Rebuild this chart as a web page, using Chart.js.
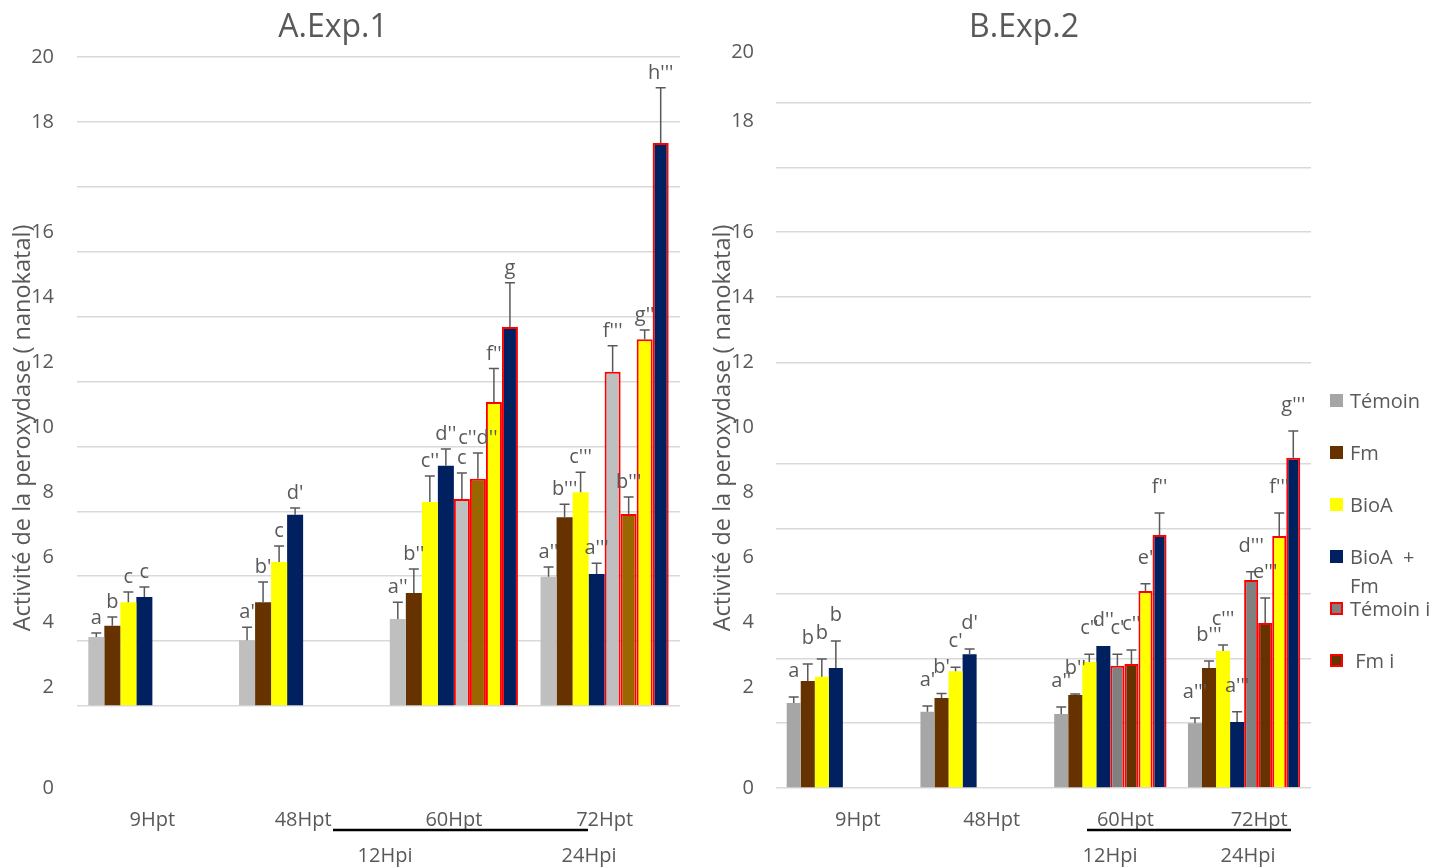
<!DOCTYPE html>
<html>
<head>
<meta charset="utf-8">
<script src="https://cdn.jsdelivr.net/npm/chart.js@4.4.0/dist/chart.umd.min.js"></script>
<style>
  body { margin: 0; background: #fff; width: 1433px; height: 867px; overflow: hidden; position: relative; }
  canvas { position: absolute; top: 0; }
  #chartA { left: 0; }
  #chartB { left: 700px; }
  #legend { position: absolute; left: 1330px; top: 0; font-family: "Open Sans", sans-serif; font-size: 20px; color: #595959; }
  .item { position: absolute; left: 0; width: 103px; line-height: 29px; white-space: pre-wrap; }
  .item span.box { position: absolute; left: 0; top: 8px; width: 13px; height: 13px; box-sizing: border-box; }
  .item span.txt { display: block; margin-left: 20px; width: 83px; }
</style>
</head>
<body>
<canvas id="chartA" width="700" height="867"></canvas>
<canvas id="chartB" width="733" height="867"></canvas>
<div id="legend"></div>

<script>
const FONT = '"Open Sans", sans-serif';
const TEXT = '#595959';

const categories = ['9Hpt', '48Hpt', '60Hpt', '72Hpt'];
const seriesNames = ['Témoin', 'Fm', 'BioA', 'BioA  + Fm', 'Témoin i', ' Fm i', 'BioA i', 'BioA + Fm i'];
const yTickLabels = ['0', '2', '4', '6', '8', '10', '12', '14', '16', '18', '20'];
const hpiLabels = ['12Hpi', '24Hpi'];

// Exp.1 values
const temoin1  = [2.13, 2.03, 2.68, 3.98];
const fm1      = [2.47, 3.20, 3.48, 5.82];
const bioa1    = [3.20, 4.44, 6.29, 6.59];
const bioaFm1  = [3.36, 5.89, 7.40, 4.07];
const temoinI1 = [null, null, 6.38, 10.30];
const fmI1     = [null, null, 7.00, 5.92];
const bioaI1   = [null, null, 9.37, 11.30];
const bioaFmI1 = [null, null, 11.68, 17.35];
// Exp.1 error bars
const errTemoin1  = [0.12, 0.40, 0.52, 0.30];
const errFm1      = [0.27, 0.62, 0.74, 0.40];
const errBioa1    = [0.31, 0.49, 0.80, 0.61];
const errBioaFm1  = [0.31, 0.21, 0.52, 0.33];
const errTemoinI1 = [null, null, 0.80, 0.80];
const errFmI1     = [null, null, 0.80, 0.52];
const errBioaI1   = [null, null, 1.03, 0.29];
const errBioaFmI1 = [null, null, 1.36, 1.70];
// Exp.1 letters
const letTemoin1  = ['a', "a'", "a''", "a''"];
const letFm1      = ['b', "b'", "b''", "b'''"];
const letBioa1    = ['c', 'c', "c''", "c'''"];
const letBioaFm1  = ['c', "d'", "d''", "a'''"];
const letTemoinI1 = [null, null, 'c', "f'''"];
const letFmI1     = [null, null, "c''d''", "b'''"];
const letBioaI1   = [null, null, "f''", "g''"];
const letBioaFmI1 = [null, null, 'g', "h'''"];

// Exp.2 values
const temoin2  = [2.62, 2.35, 2.28, 2.00];
const fm2      = [3.30, 2.78, 2.87, 3.70];
const bioa2    = [3.43, 3.60, 3.89, 4.23];
const bioaFm2  = [3.70, 4.13, 4.38, 2.04];
const temoinI2 = [null, null, 3.77, 6.42];
const fmI2     = [null, null, 3.83, 5.09];
const bioaI2   = [null, null, 6.08, 7.78];
const bioaFmI2 = [null, null, 7.81, 10.19];
// Exp.2 error bars
const errTemoin2  = [0.19, 0.18, 0.22, 0.16];
const errFm2      = [0.53, 0.14, 0.03, 0.22];
const errBioa2    = [0.55, 0.13, 0.24, 0.18];
const errBioaFm2  = [0.84, 0.16, 0.00, 0.31];
const errTemoinI2 = [null, null, 0.36, 0.25];
const errFmI2     = [null, null, 0.43, 0.77];
const errBioaI2   = [null, null, 0.22, 0.71];
const errBioaFmI2 = [null, null, 0.68, 0.83];
// Exp.2 letters
const letTemoin2  = ['a', "a'", "a''", "a'''"];
const letFm2      = ['b', "b'", "b''", "b'''"];
const letBioa2    = ['b', "c'", "c''", "c'''"];
const letBioaFm2  = ['b', "d'", "d''", "a'''"];
const letTemoinI2 = [null, null, "c'", "d'''"];
const letFmI2     = [null, null, "c''", "e'''"];
const letBioaI2   = [null, null, "e'", "f'''"];
const letBioaFmI2 = [null, null, "f''", "g'''"];

// gridline values of panel B (its upper gridlines are not evenly placed)
const gridB = [0, 2, 4, 6, 8, 10, 13.12, 15.15, 17.16, 19.14, 21.14];
// where the typed y labels sit on each panel's value scale
const yLabelAtA = [-2.53, 0.59, 2.59, 4.59, 6.6, 8.6, 10.6, 12.6, 14.6, 18.0, 20.0];
const yLabelAtB = [0, 3.12, 5.12, 7.13, 9.14, 11.14, 13.15, 15.15, 17.16, 20.56, 22.7];

function makeExtras(p) {
  return {
    id: 'extras',
    afterDatasetsDraw(chart) {
      const ctx = chart.ctx, ys = chart.scales.y;
      ctx.save();
      chart.data.datasets.forEach((ds, di) => {
        const meta = chart.getDatasetMeta(di);
        meta.data.forEach((bar, i) => {
          const v = ds.data[i];
          if (v == null) return;
          const e = ds.errors[i] || 0;
          const yTop = ys.getPixelForValue(v + e);
          if (e > 0) {
            ctx.strokeStyle = TEXT;
            ctx.lineWidth = 1.5;
            ctx.beginPath();
            ctx.moveTo(bar.x, bar.y);
            ctx.lineTo(bar.x, yTop);
            ctx.moveTo(bar.x - 5, yTop);
            ctx.lineTo(bar.x + 5, yTop);
            ctx.stroke();
          }
          const t = ds.letters[i];
          if (t) {
            ctx.fillStyle = TEXT;
            ctx.font = '20px ' + FONT;
            ctx.textAlign = 'center';
            ctx.textBaseline = 'alphabetic';
            ctx.fillText(t, bar.x, yTop - p.letterGap);
          }
        });
      });
      ctx.restore();
    },
    afterDraw(chart) {
      const ctx = chart.ctx, ys = chart.scales.y;
      ctx.save();
      ctx.fillStyle = TEXT;
      // typed y labels
      ctx.font = '20px ' + FONT;
      ctx.textAlign = 'right';
      ctx.textBaseline = 'middle';
      yTickLabels.forEach((t, i) => ctx.fillText(t, p.yLabelX, ys.getPixelForValue(p.yLabelAt[i])));
      // panel title
      ctx.font = '32px ' + FONT;
      ctx.textAlign = 'center';
      ctx.fillText(p.title, p.titleX, 28);
      // y axis title
      ctx.font = '23.5px ' + FONT;
      ctx.save();
      ctx.translate(p.axisTitleX, 428);
      ctx.rotate(-Math.PI / 2);
      ctx.fillText('Activité de la peroxydase ( nanokatal)', 0, 0);
      ctx.restore();
      // second row of x labels
      ctx.font = '20px ' + FONT;
      hpiLabels.forEach((t, i) => ctx.fillText(t, p.hpiX[i], 856));
      // black rule under the time labels
      ctx.strokeStyle = '#000';
      ctx.lineWidth = 2.5;
      ctx.beginPath();
      ctx.moveTo(p.rule[0], 830);
      ctx.lineTo(p.rule[1], 830);
      ctx.stroke();
      ctx.restore();
    }
  };
}

function makeChart(id, p) {
  const datasets = seriesNames.map((name, i) => ({
    label: name,
    data: p.values[i],
    errors: p.errors[i],
    letters: p.letters[i],
    backgroundColor: p.colors[i],
    borderColor: i >= 4 ? '#ff0000' : p.colors[i],
    borderWidth: i >= 4 ? 2 : 0,
    borderSkipped: 'start'
  }));
  return new Chart(document.getElementById(id), {
    type: 'bar',
    data: { labels: categories, datasets: datasets },
    options: {
      responsive: false,
      animation: false,
      layout: { padding: p.padding },
      datasets: { bar: { categoryPercentage: p.catPct, barPercentage: 1 } },
      plugins: { legend: { display: false }, tooltip: { enabled: false } },
      scales: {
        x: {
          grid: { display: false, drawTicks: false },
          border: { display: false },
          ticks: { color: TEXT, font: { size: 20, family: FONT }, padding: p.xPad, labelOffset: p.xOffset, maxRotation: 0 },
          afterFit: s => { s.height = p.axisHeight; s.paddingLeft = 0; s.paddingRight = 0; }
        },
        y: {
          min: 0,
          max: p.yMax,
          ticks: { display: false, stepSize: 2 },
          afterBuildTicks: p.grid ? (s => { s.ticks = p.grid.map(v => ({ value: v })); }) : undefined,
          grid: { color: '#d9d9d9', lineWidth: 1.5, drawTicks: false },
          border: { display: false },
          afterFit: s => { s.width = 0; }
        }
      }
    },
    plugins: [makeExtras(p)]
  });
}

makeChart('chartA', {
  values: [temoin1, fm1, bioa1, bioaFm1, temoinI1, fmI1, bioaI1, bioaFmI1],
  errors: [errTemoin1, errFm1, errBioa1, errBioaFm1, errTemoinI1, errFmI1, errBioaI1, errBioaFmI1],
  letters: [letTemoin1, letFm1, letBioa1, letBioaFm1, letTemoinI1, letFmI1, letBioaI1, letBioaFmI1],
  colors: ['#bfbfbf', '#663300', '#ffff00', '#002060', '#bfbfbf', '#996600', '#ffff00', '#002060'],
  padding: { left: 77, right: 20, top: 57, bottom: 0 },
  axisHeight: 161,
  xPad: 102,
  xOffset: 0,
  catPct: 0.85,
  yMax: 20,
  grid: null,
  yLabelAt: yLabelAtA,
  yLabelX: 54,
  letterGap: 9,
  title: 'A.Exp.1',
  titleX: 333,
  axisTitleX: 23,
  hpiX: [385, 589],
  rule: [333, 588]
});

makeChart('chartB', {
  values: [temoin2, fm2, bioa2, bioaFm2, temoinI2, fmI2, bioaI2, bioaFmI2],
  errors: [errTemoin2, errFm2, errBioa2, errBioaFm2, errTemoinI2, errFmI2, errBioaI2, errBioaFmI2],
  letters: [letTemoin2, letFm2, letBioa2, letBioaFm2, letTemoinI2, letFmI2, letBioaI2, letBioaFmI2],
  colors: ['#a6a6a6', '#663300', '#ffff00', '#002060', '#808080', '#663300', '#ffff00', '#002060'],
  padding: { left: 76, right: 122, top: 103, bottom: 0 },
  axisHeight: 79,
  xPad: 20,
  xOffset: 15,
  catPct: 0.84,
  yMax: 21.14,
  grid: gridB,
  yLabelAt: yLabelAtB,
  yLabelX: 54,
  letterGap: 20,
  title: 'B.Exp.2',
  titleX: 324,
  axisTitleX: 23,
  hpiX: [410, 548],
  rule: [387, 591]
});

// legend (first six series, colours of panel B)
const legendColors = ['#a6a6a6', '#663300', '#ffff00', '#002060', '#808080', '#663300'];
const legend = document.getElementById('legend');
seriesNames.slice(0, 6).forEach((name, i) => {
  const it = document.createElement('div');
  it.className = 'item';
  it.style.top = (386 + 52 * i) + 'px';
  const box = document.createElement('span');
  box.className = 'box';
  box.style.background = legendColors[i];
  if (i >= 4) box.style.border = '2px solid #ff0000';
  const txt = document.createElement('span');
  txt.className = 'txt';
  txt.textContent = name;
  it.appendChild(box);
  it.appendChild(txt);
  legend.appendChild(it);
});
</script>
</body>
</html>
